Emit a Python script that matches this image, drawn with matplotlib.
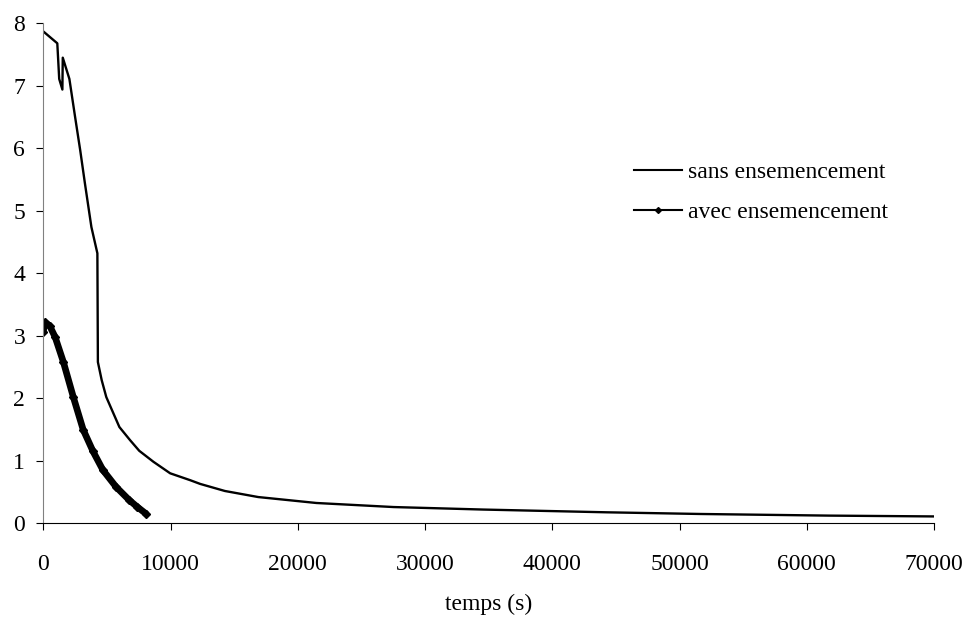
import matplotlib
matplotlib.use("Agg")
import matplotlib.pyplot as plt
from matplotlib.lines import Line2D

plt.rcParams['font.family'] = ['Liberation Serif', 'DejaVu Serif']

sans_t = [0, 1100, 1250, 1500, 1530, 2050, 2500, 2900, 3270, 3780, 4250, 4290,
          4590, 4950, 5980, 6820, 7540, 8650, 9970, 11540, 12330, 14270, 16890,
          21460, 27530, 34560, 44260, 51670, 61740, 70000]
sans_y = [7.87, 7.68, 7.11, 6.94, 7.45, 7.11, 6.50, 5.97, 5.44, 4.74, 4.32, 2.58,
          2.29, 2.02, 1.54, 1.33, 1.16, 0.985, 0.80, 0.69, 0.63, 0.517, 0.42,
          0.325, 0.26, 0.22, 0.176, 0.149, 0.123, 0.11]

avec_t = [0, 100, 500, 930, 1580, 2360, 3130, 3910, 4690, 5730, 6760, 7400, 8060]
avec_y = [3.06, 3.22, 3.16, 2.98, 2.58, 2.02, 1.50, 1.15, 0.85, 0.58, 0.37, 0.26, 0.155]

xticks = [0, 10000, 20000, 30000, 40000, 50000, 60000, 70000]
yticks = [0, 1, 2, 3, 4, 5, 6, 7, 8]
legend_labels = ['sans ensemencement', 'avec ensemencement']

W, H = 966, 619
L, R, T, B = 43.3, 934, 23.3, 523.3
fig = plt.figure(figsize=(W/100, H/100), dpi=100)
ax = fig.add_axes([L/W, 1-B/H, (R-L)/W, (B-T)/H])

ax.plot(sans_t, sans_y, color='black', lw=1.7, solid_joinstyle='round')
ax.plot(avec_t, avec_y, color='black', lw=4.8, marker='D', ms=4,
        solid_capstyle='round', solid_joinstyle='round')

ax.set_xlim(0, 70000)
ax.set_ylim(0, 8)
ax.set_xticks(xticks)
ax.set_yticks(yticks)
ax.set_xticklabels([str(v) for v in xticks])
ax.set_yticklabels([str(v) for v in yticks])
for s in ['top', 'right']:
    ax.spines[s].set_visible(False)
ax.spines['left'].set_color('#808080')
ax.spines['bottom'].set_color('black')
ax.tick_params(direction='out', length=5, labelsize=17)
ax.tick_params(axis='x', pad=17)
ax.tick_params(axis='y', pad=8)
ax.set_xlabel('temps (s)', fontsize=17, labelpad=14)

handles = [Line2D([0], [0], color='black', lw=1.5),
           Line2D([0], [0], color='black', lw=1.5, marker='D', ms=3)]
ax.legend(handles, legend_labels,
          loc='center left', bbox_to_anchor=(0.663, 0.662), frameon=False,
          fontsize=17, handlelength=2.03, handletextpad=0.28,
          labelspacing=0.76, borderpad=0, borderaxespad=0)

fig.savefig('out.png', dpi=100)
